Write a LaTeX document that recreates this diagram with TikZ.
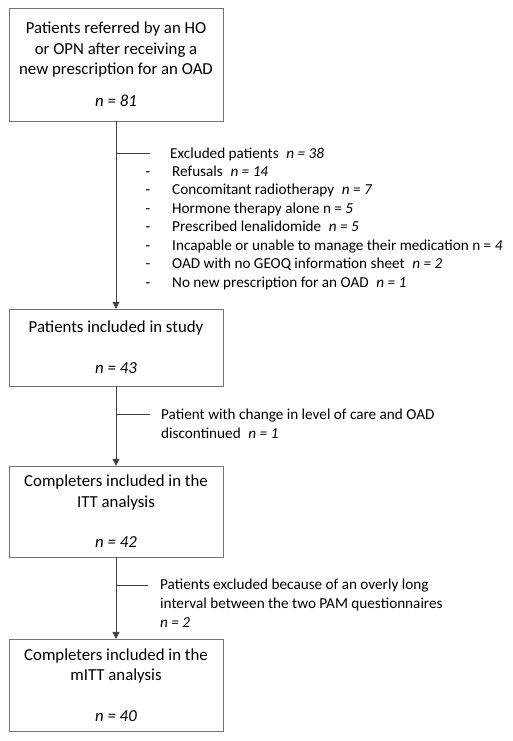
\documentclass[tikz,border=0pt]{standalone}
\usepackage{fontspec}
\setmainfont{Carlito}
\usetikzlibrary{arrows.meta,positioning,calc}
\tikzset{
  stepblk/.style={draw=black!55,rectangle,minimum width=214pt,inner sep=0pt,align=center,font=\fontsize{16.8}{20.5}\selectfont},
  arr/.style={-{Triangle[width=7pt,length=7pt]},black!75,line width=0.8pt},
  brn/.style={black!75,line width=0.6pt},
  note/.style={anchor=base west,align=left,inner sep=0pt,font=\fontsize{15.2}{18.7}\selectfont}
}

\begin{document}
\begin{tikzpicture}[x=1pt,y=-1pt]
  \useasboundingbox (0,0) rectangle (512,741);
  % Flow boxes
  \node[stepblk,minimum height=113pt] (refer) at (116,64.5) {Patients referred by an HO\\or OPN after receiving a\\new prescription for an OAD\\[11.5pt]\textit{n = 81}};
  \node[stepblk,minimum height=77pt] (incl) at (116,347.5) {Patients included in study\\[20.5pt]\textit{n = 43}};
  \node[stepblk,minimum height=91pt] (itt) at (116,511.5) {Completers included in the\\ITT analysis\\[20pt]\textit{n = 42}};
  \node[stepblk,minimum height=92pt] (mitt) at (116,685) {Completers included in the\\mITT analysis\\[20pt]\textit{n = 40}};

  % Main arrows
  \draw[arr] (refer) -- (incl);
  \draw[arr] (incl) -- (itt);
  \draw[arr] (itt) -- (mitt);

  % Exclusions after referral
  \coordinate (b1) at (116,153);
  \coordinate (b1e) at (150,153);
  \draw[brn] (b1) -- (b1e);
  \node[note] (excl) at (170,158) {Excluded patients\enspace\textit{n = 38}};
  \foreach \txt [count=\k] in {
      {Refusals\enspace\textit{n = 14}},
      {Concomitant radiotherapy\enspace\textit{n = 7}},
      {Hormone therapy alone n = \textit{5}},
      {Prescribed lenalidomide\enspace\textit{n = 5}},
      {Incapable or unable to manage their medication n = \textit{4}},
      {OAD with no GEOQ information sheet\enspace\textit{n = 2}},
      {No new prescription for an OAD\enspace\textit{n = 1}}} {
    \node[note,anchor=base] (dash\k) at (148,{176+18.5*(\k-1)}) {-};
    \node[note] (item\k) at (172,{176+18.5*(\k-1)}) {\txt};
  }

  % Exclusion after inclusion
  \coordinate (b2) at (116,414);
  \coordinate (b2e) at (150,414);
  \draw[brn] (b2) -- (b2e);
  \node[note] (lost) at (161,438) {Patient with change in level of care and OAD\\discontinued\enspace\textit{n = 1}};

  % Exclusion after ITT
  \coordinate (b3) at (116,585);
  \coordinate (b3e) at (148,585);
  \draw[brn] (b3) -- (b3e);
  \node[note] (pam) at (160,627) {Patients excluded because of an overly long\\interval between the two PAM questionnaires\\\textit{n = 2}};
\end{tikzpicture}
\end{document}
